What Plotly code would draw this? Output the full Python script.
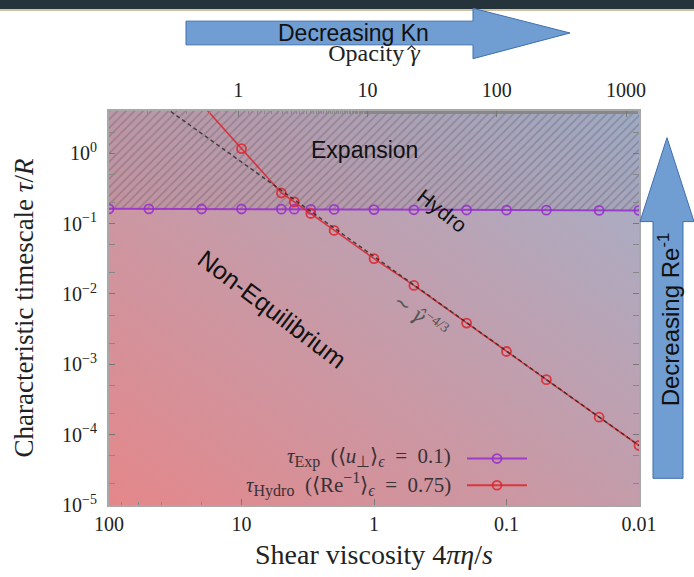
import base64
import plotly.graph_objects as go

# ---------------- data ----------------
eta_exp = [100, 50, 20, 10, 5, 4, 3, 2, 1, 0.5, 0.2, 0.1, 0.05, 0.02, 0.01]
tau_exp = [0.162, 0.162, 0.161, 0.161, 0.160, 0.160, 0.159, 0.159, 0.158,
           0.157, 0.156, 0.155, 0.155, 0.154, 0.154]

eta_hydro = [20, 10, 5, 4, 3, 2, 1, 0.5, 0.2, 0.1, 0.05, 0.02, 0.01]
tau_hydro = [5.0, 1.16, 0.272, 0.203, 0.139, 0.080, 0.0318, 0.0132,
             0.00385, 0.00152, 0.000605, 0.000177, 0.0000701]

gamma_fit = [0.2, 1260]
tau_fit = [6.67, 7.0e-5]

x_ticks = [100, 10, 1, 0.1, 0.01]
x_ticktext = ["100", "10", "1", "0.1", "0.01"]
g_ticks = [1, 10, 100, 1000]
g_ticktext = ["1", "10", "100", "1000"]
y_ticks = [1, 0.1, 0.01, 0.001, 0.0001, 0.00001]
y_ticktext = ["10<sup>0</sup>", "10<sup>−1</sup>", "10<sup>−2</sup>",
              "10<sup>−3</sup>", "10<sup>−4</sup>", "10<sup>−5</sup>"]

# ---------------- geometry helpers (pixel -> paper) ----------------
L, R, T, B = 109, 639, 111, 510
W, H = 694, 577


def PX(x):
    return (x - L) / (R - L)


def PY(y):
    return (B - y) / (B - T)


SERIF = "Liberation Serif"
SANS = "Liberation Sans"
GHAT = "<span style='font-family:DejaVu Serif'><i>γ̂</i></span>"
PURPLE = "rgba(150,45,205,0.85)"
RED = "rgba(222,35,45,0.85)"

fig = go.Figure()

# hatched "Expansion" region above the expansion timescale
fig.add_trace(go.Scatter(
    x=eta_exp + [eta_exp[-1], eta_exp[0]],
    y=tau_exp + [100, 100],
    mode="lines", line=dict(width=0, color="rgba(0,0,0,0)"),
    fill="toself", fillcolor="rgba(90,90,110,0.10)",
    fillpattern=dict(shape="/", size=6, solidity=0.25,
                     fgcolor="rgba(55,55,65,0.55)",
                     bgcolor="rgba(90,90,110,0.08)"),
    hoverinfo="skip", showlegend=False,
))

fig.add_trace(go.Scatter(
    x=eta_exp, y=tau_exp, mode="lines+markers",
    line=dict(color=PURPLE, width=2),
    marker=dict(symbol="circle-open", size=9, color=PURPLE,
                line=dict(width=1.8, color=PURPLE)),
    showlegend=False,
))

fig.add_trace(go.Scatter(
    x=eta_hydro, y=tau_hydro, mode="lines+markers",
    line=dict(color=RED, width=1.6),
    marker=dict(symbol="circle-open", size=9, color=RED,
                line=dict(width=1.8, color=RED)),
    showlegend=False,
))

fig.add_trace(go.Scatter(
    x=gamma_fit, y=tau_fit, xaxis="x2", mode="lines",
    line=dict(color="rgba(40,40,40,0.8)", width=1.5, dash="4px,3px"),
    showlegend=False,
))

# background gradient
svg = ('<svg xmlns="http://www.w3.org/2000/svg" width="100" height="100" '
       'preserveAspectRatio="none"><defs><linearGradient id="g" x1="0" y1="1" '
       'x2="1" y2="0"><stop offset="0" stop-color="#e4878a"/>'
       '<stop offset="1" stop-color="#a4b1ca"/></linearGradient></defs>'
       '<rect width="100" height="100" fill="url(#g)"/></svg>')
src = "data:image/svg+xml;base64," + base64.b64encode(svg.encode()).decode()

shapes = []
# dark band at very top of the screenshot
shapes.append(dict(type="rect", xref="paper", yref="paper",
                   x0=PX(-5), x1=PX(W + 5), y0=PY(8), y1=PY(-5),
                   fillcolor="#25343b", line=dict(width=0), layer="above"))
shapes.append(dict(type="line", xref="paper", yref="paper",
                   x0=PX(0), x1=PX(W), y0=PY(9), y1=PY(9),
                   line=dict(color="#cdbf9f", width=1.5), layer="above"))

ARROW_FILL = "#709dd2"
ARROW_EDGE = "#3f6fae"
top_arrow = [(186, 20), (473, 20), (473, 7), (570, 32), (473, 58), (473, 44), (186, 44)]
right_arrow = [(653, 483), (653, 223), (640, 223), (667, 138), (694, 223), (683, 223), (683, 483)]
for poly in (top_arrow, right_arrow):
    path = "M " + " L ".join(f"{PX(x):.4f},{PY(y):.4f}" for x, y in poly) + " Z"
    shapes.append(dict(type="path", xref="paper", yref="paper", path=path,
                       fillcolor=ARROW_FILL, line=dict(color=ARROW_EDGE, width=1),
                       layer="above"))

# circumflex over the gamma of the top-axis title
hat = [(407.5, 49), (411.5, 45), (415.5, 49)]
shapes.append(dict(type="path", xref="paper", yref="paper",
                   path="M " + " L ".join(f"{PX(x):.4f},{PY(y):.4f}" for x, y in hat),
                   line=dict(color="#222", width=1.2), layer="above"))

# legend samples (symbols to the right of the text)
for yy, col in ((463, PURPLE), (490, RED)):
    shapes.append(dict(type="line", xref="paper", yref="paper",
                       x0=PX(467), x1=PX(527), y0=PY(yy), y1=PY(yy),
                       line=dict(color=col, width=2), layer="above"))
    r = 4.5
    shapes.append(dict(type="circle", xref="paper", yref="paper",
                       x0=PX(497 - r), x1=PX(497 + r), y0=PY(yy + r), y1=PY(yy - r),
                       line=dict(color=col, width=1.8), fillcolor="rgba(0,0,0,0)",
                       layer="above"))

SP = "\u2002"


def sub(t):
    return "<sub><span style='font-size:16px'>" + t + "</span></sub>"


def sup(t):
    return "<sup><span style='font-size:16px'>" + t + "</span></sup>"


annotations = [
    dict(text="Decreasing Kn", x=PX(353), y=PY(32),
         font=dict(family=SANS, size=23, color="#111")),
    dict(text="Decreasing Re<sup>-1</sup>", x=PX(669), y=PY(322),
         textangle=-90, font=dict(family=SANS, size=24, color="#111")),
    dict(text="Expansion", x=PX(364), y=PY(150),
         font=dict(family=SANS, size=23, color="#111")),
    dict(text="Hydro", x=PX(442), y=PY(212), textangle=38,
         font=dict(family=SANS, size=21, color="#111")),
    dict(text="Non-Equilibrium", x=PX(272), y=PY(312), textangle=37,
         font=dict(family=SANS, size=25, color="#111")),
    dict(text="∼ " + GHAT + "<sup>−4/3</sup>", x=PX(421), y=PY(318),
         textangle=37, font=dict(family=SERIF, size=20, color="#555")),
    dict(text="<i>τ</i>" + sub("Exp") + SP + "(⟨<i>u</i>" + sub("⊥") + "⟩"
         + sub("<i>ϵ</i>") + SP + "=" + SP + "0.1)",
         x=PX(453), y=PY(462), xanchor="right",
         font=dict(family=SERIF, size=21, color="#3a3035")),
    dict(text="<i>τ</i>" + sub("Hydro") + SP + "(⟨Re" + sup("−1") + "⟩"
         + sub("<i>ϵ</i>") + SP + "=" + SP + "0.75)",
         x=PX(453), y=PY(489), xanchor="right",
         font=dict(family=SERIF, size=21, color="#3a3035")),
]
for a in annotations:
    a.setdefault("xref", "paper")
    a.setdefault("yref", "paper")
    a.setdefault("xanchor", "center")
    a.setdefault("yanchor", "middle")
    a.setdefault("showarrow", False)

AX_LINE = "#a8a8a8"
fig.update_layout(
    width=W, height=H,
    margin=dict(l=L, r=W - R, t=T, b=H - B),
    paper_bgcolor="white", plot_bgcolor="rgba(0,0,0,0)",
    font=dict(family=SERIF, size=20, color="#222"),
    images=[dict(source=src, xref="paper", yref="paper", x=0, y=1,
                 sizex=1, sizey=1, sizing="stretch", layer="below",
                 xanchor="left", yanchor="top")],
    shapes=shapes, annotations=annotations,
    xaxis=dict(type="log", range=[2, -2], tickmode="array",
               tickvals=x_ticks, ticktext=x_ticktext,
               ticks="inside", ticklen=6, tickcolor="#777",
               minor=dict(ticks="inside", ticklen=3, tickcolor="#888"),
               showgrid=False, zeroline=False,
               showline=True, linecolor=AX_LINE, linewidth=2, mirror=True,
               title=dict(text="Shear viscosity 4<i>πη</i>/<i>s</i>",
                          font=dict(size=28), standoff=10),
               tickfont=dict(size=20)),
    xaxis2=dict(type="log", range=[-1, 3.1], overlaying="x", side="top",
                tickmode="array", tickvals=g_ticks, ticktext=g_ticktext,
                ticks="inside", ticklen=6, tickcolor="#777",
                minor=dict(ticks="inside", ticklen=3, tickcolor="#888"),
                showgrid=False, zeroline=False, showline=False,
                ticklabelstandoff=9,
                title=dict(text="Opacity <i>γ</i>", font=dict(size=24), standoff=10),
                tickfont=dict(size=20)),
    yaxis=dict(type="log", range=[-5, 0.6], tickmode="array",
               tickvals=y_ticks, ticktext=y_ticktext,
               ticks="inside", ticklen=6, tickcolor="#777",
               minor=dict(ticks="inside", ticklen=3, tickcolor="#888"),
               showgrid=False, zeroline=False,
               showline=True, linecolor=AX_LINE, linewidth=2, mirror="allticks",
               ticklabelstandoff=6,
               title=dict(text="Characteristic timescale <i>τ</i>/<i>R</i>",
                          font=dict(size=27), standoff=21),
               tickfont=dict(size=20)),
)

fig.write_html("out.html", config={"displayModeBar": False},
               post_script="document.body.style.margin='0';")
